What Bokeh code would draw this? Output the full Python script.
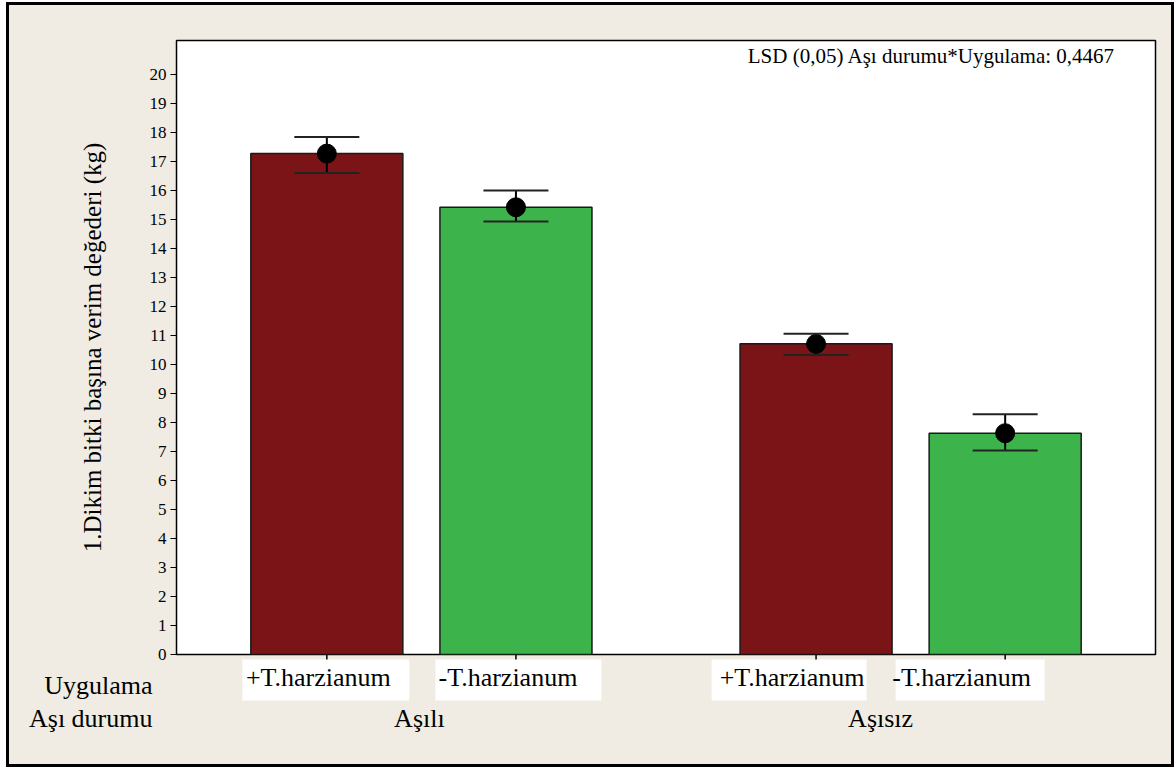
from bokeh.plotting import figure
from bokeh.layouts import column
from bokeh.models import (FactorRange, Range1d, ColumnDataSource, Whisker, TeeHead,
                          Label, FixedTicker)
from bokeh.core.properties import value
from bokeh.embed import file_html
from bokeh.resources import INLINE

# ---------------- data ----------------
groups = ["Aşılı", "Aşılı", "Aşısız", "Aşısız"]
treatments = ["+T.harzianum", "-T.harzianum", "+T.harzianum", "-T.harzianum"]
means = [17.27, 15.42, 10.71, 7.63]
upper = [17.84, 16.00, 11.06, 8.28]
lower = [16.60, 14.93, 10.33, 7.03]
group_names = ["Aşılı", "Aşısız"]
row_titles = ["Uygulama", "Aşı durumu"]
y_title = "1.Dikim bitki başına verim değederi (kg)"
lsd_text = "LSD (0,05) Aşı durumu*Uygulama: 0,4467"
y_ticks = list(range(0, 21))

# ---------------- style / layout ----------------
RED = "#7B1416"
GREEN = "#3DB44B"
bar_colors = [RED, GREEN, RED, GREEN]
BEIGE = "#F0ECE3"
FONT = "Liberation Serif"
GP = 0.587          # group padding (factor units)
RP = 0.295          # absolute range padding per side (factor units)
YMAX = 21.17

W = 1162            # canvas width
FRAME_L, FRAME_R = 167, 16   # borders around main frame (px)
TOP_B = 35
MAIN_B = 10
MAIN_H = 659
LOW_H = 110
FRAME_W = W - FRAME_L - FRAME_R
span = 4 + GP + 2 * RP
PX = FRAME_W / span                          # px per factor unit
PY = (MAIN_H - TOP_B - MAIN_B) / YMAX        # px per y unit

factors = list(zip(groups, treatments))
src = ColumnDataSource(dict(x=factors, top=means, upper=upper, lower=lower, color=bar_colors))

p = figure(x_range=FactorRange(factors=factors, factor_padding=0, group_padding=GP,
                               range_padding=RP, range_padding_units="absolute"),
           y_range=Range1d(0, YMAX), x_axis_location=None,
           width=W, height=MAIN_H, output_backend="svg", toolbar_location=None,
           min_border_left=FRAME_L, min_border_top=TOP_B, min_border_right=FRAME_R,
           min_border_bottom=MAIN_B)

p.background_fill_color = "white"
p.border_fill_color = BEIGE
p.outline_line_color = "black"
p.outline_line_width = 1.5
p.grid.visible = False

p.vbar(x="x", top="top", width=0.804, fill_color="color", line_color="#1a1a1a",
       line_width=1.5, source=src)
w = Whisker(base="x", upper="upper", lower="lower", source=src, line_color="black", line_width=2,
            level="overlay",
            upper_head=TeeHead(size=65, line_width=2, line_color="#222222"),
            lower_head=TeeHead(size=65, line_width=2, line_color="#222222"))
p.add_layout(w)
p.scatter(x="x", y="top", size=19, color="black", source=src, level="overlay")

# y axis
p.yaxis.ticker = FixedTicker(ticks=y_ticks)
p.yaxis.minor_tick_line_color = None
p.yaxis.major_tick_out = 6
p.yaxis.major_tick_in = 0
p.yaxis.major_label_standoff = 4
p.yaxis.major_label_text_font = FONT
p.yaxis.major_label_text_font_size = "17px"
p.yaxis.major_label_text_color = "black"
p.yaxis.axis_line_color = "black"
p.yaxis.axis_label = y_title
p.yaxis.axis_label_text_font = FONT
p.yaxis.axis_label_text_font_style = "normal"
p.yaxis.axis_label_text_font_size = "25px"
p.yaxis.axis_label_text_color = "black"
p.yaxis.axis_label_standoff = 41

p.add_layout(Label(x=4 + GP, y=20.64, x_offset=RP * PX - 224, text=lsd_text,
                   text_align="center", text_baseline="middle", text_font=FONT,
                   text_font_size="21px", text_color="black"))


def center(i):
    g = group_names.index(groups[i])
    return i + 0.5 + g * GP


def below(px):
    """y data value that lies px pixels below the zero line"""
    return -px / PY


# ---------------- lower strip with category labels ----------------
# it overlaps the main plot's bottom border (transparent background) so the
# category tick marks can sit right under the zero line
row_y = [round(below(31), 3), round(below(64), 3)]
p2 = figure(x_range=Range1d(-RP, 4 + GP + RP),
            y_range=Range1d(below(LOW_H), 0),
            width=W, height=LOW_H, output_backend="svg", toolbar_location=None,
            x_axis_location=None, min_border=0, min_border_left=FRAME_L,
            min_border_right=FRAME_R)
p2.margin = (-MAIN_B, 0, 0, 0)
p2.background_fill_color = None
p2.border_fill_color = None
p2.outline_line_color = None
p2.grid.visible = False

# row titles as the labels of the strip's y axis
p2.yaxis.ticker = FixedTicker(ticks=row_y)
p2.yaxis.major_label_overrides = {row_y[i]: row_titles[i] for i in range(len(row_titles))}
p2.yaxis.axis_line_color = None
p2.yaxis.major_tick_line_color = None
p2.yaxis.minor_tick_line_color = None
p2.yaxis.major_tick_out = 0
p2.yaxis.major_tick_in = 0
p2.yaxis.major_label_standoff = 24
p2.yaxis.major_label_text_font = FONT
p2.yaxis.major_label_text_font_size = "26px"
p2.yaxis.major_label_text_color = "black"

centers = [center(i) for i in range(len(treatments))]
box_shift = [-1, 2.5, -27, -35]      # px
box_w = [167, 166, 155, 149]         # px
text_shift = [-8.5, -8, -24, -43.5]  # px
box_src = ColumnDataSource(dict(
    x=[c + s / PX for c, s in zip(centers, box_shift)],
    w=box_w,
    tx=[c + s / PX for c, s in zip(centers, text_shift)],
    t=treatments))
p2.rect(x="x", y=below(25.5), width="w", height=41, width_units="screen", height_units="screen",
        fill_color="white", line_color=None, source=box_src)
p2.text(x="tx", y=below(23), text="t", text_align="center", text_baseline="middle",
        text_font=value(FONT), text_font_size=value("26px"), text_color="black", source=box_src)

# tick marks of the category axis
p2.segment(x0=centers, x1=centers, y0=[0] * 4, y1=[below(5)] * 4, line_color="black",
           line_width=1.5)

grp_centers = []
for g in group_names:
    idx = [i for i, gg in enumerate(groups) if gg == g]
    grp_centers.append(sum(centers[i] for i in idx) / len(idx))
grp_shift = [-2, -30]
p2.text(x=[c + s / PX for c, s in zip(grp_centers, grp_shift)], y=[below(64)] * 2,
        text=group_names, text_align="center", text_baseline="middle",
        text_font=value(FONT), text_font_size=value("26px"), text_color="black")

layout = column(p, p2, spacing=0, margin=(5, 0, 0, 9),
                styles={"outline": "3px solid black", "background-color": BEIGE})

open("out.html", "w").write(file_html(layout, INLINE))
